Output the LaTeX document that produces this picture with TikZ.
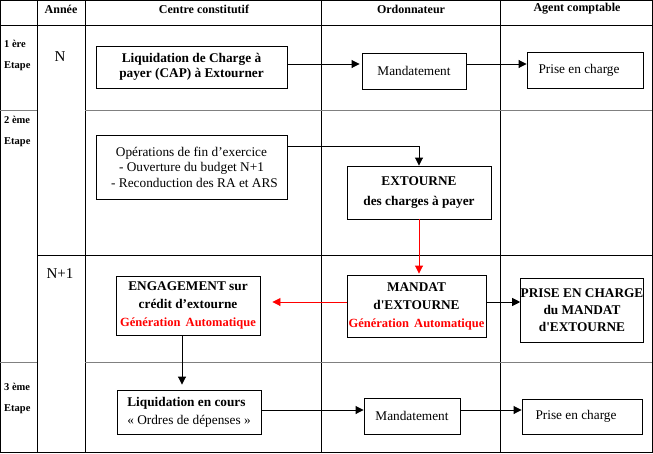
\documentclass[tikz,border=0pt]{standalone}
\usepackage{fontspec}
\setmainfont{Liberation Serif}[Ligatures=TeXOff]
\usetikzlibrary{arrows.meta,calc}
\definecolor{gridgray}{RGB}{128,128,128}
\definecolor{autored}{RGB}{255,0,0}
\tikzset{
  boxnode/.style={draw=black,line width=0.9pt,inner sep=0pt,align=center,
    font=\fontsize{13.3}{18}\selectfont},
  hdr/.style={font=\fontsize{12}{14}\selectfont\bfseries},
  etp/.style={font=\fontsize{10.5}{21}\selectfont\bfseries,anchor=west,align=left,inner sep=0pt},
  yr/.style={font=\fontsize{15}{18}\selectfont},
  conn/.style={line width=0.9pt,-{Triangle[length=8pt,width=8pt]}},
  redconn/.style={conn,draw=autored,color=autored},
  gline/.style={line width=0.9pt,draw=gridgray},
  bline/.style={line width=0.9pt,draw=black}
}
\newcommand{\gena}{\textcolor{autored}{\fontsize{12.5}{18}\selectfont Génération\, Automatique}}
\begin{document}
\begin{tikzpicture}[x=1pt,y=-1pt]
\useasboundingbox (0,0) rectangle (653,453);
\fill[white] (0,0) rectangle (653,453);
% grid
\draw[bline] (0.5,0.5) rectangle (652,452);
\draw[bline] (37,0) -- (37,452);
\draw[bline] (85,0) -- (85,452);
\draw[bline] (321,0) -- (321,452);
\draw[bline] (500,0) -- (500,452);
\draw[bline] (0,25) -- (652,25);
\draw[gline] (0,110) -- (37,110);
\draw[gline] (85,110) -- (652,110);
\draw[bline] (37,255) -- (652,255);
\draw[gline] (0,362) -- (37,362);
\draw[gline] (85,362) -- (652,362);
% headers
\node[hdr] (hA) at (61,9) {Année};
\node[hdr] (hC) at (204,9) {Centre constitutif};
\node[hdr] (hO) at (411,9) {Ordonnateur};
\node[hdr] (hG) at (577,9) {Agent comptable};
% etapes
\node[etp] (e1) at (4,55) {1 ère\\Etape};
\node[etp] (e2) at (4,131) {2 ème\\Etape};
\node[etp] (e3) at (4,398) {3 ème\\Etape};
% years
\node[yr] (yN) at (60,57) {N};
\node[yr] (yN1) at (60,274) {N+1};
% boxes
\node[boxnode,minimum width=191pt,minimum height=42pt,font=\fontsize{13.3}{14.5}\selectfont\bfseries] (liq) at (191.5,67) {Liquidation de Charge à\\payer (CAP) à Extourner};
\node[boxnode,minimum width=104pt,minimum height=36pt] (mand1) at (414,71) {Mandatement};
\node[boxnode,minimum width=116pt,minimum height=36pt] (prise1) at (585,70) {Prise en charge\hspace*{12pt}};
\node[boxnode,minimum width=191pt,minimum height=64pt,font=\fontsize{13.3}{15.5}\selectfont] (ops) at (191.5,167) {Opérations de fin d’exercice\\- Ouverture du budget N+1\\\hspace*{6pt}- Reconduction des RA et ARS};
\node[boxnode,minimum width=144pt,minimum height=53pt,font=\fontsize{13.3}{20}\selectfont\bfseries] (ext) at (419,192.5) {EXTOURNE\\des charges à payer};
\node[boxnode,minimum width=139pt,minimum height=62pt,font=\fontsize{13.3}{18}\selectfont\bfseries] (mandat) at (416.5,306) {MANDAT\\d'EXTOURNE\\\gena};
\node[boxnode,minimum width=144pt,minimum height=59pt,font=\fontsize{13.3}{18}\selectfont\bfseries] (eng) at (188,305.5) {ENGAGEMENT sur\\crédit d’extourne\hspace*{10pt}\\\gena};
\node[boxnode,minimum width=120pt,minimum height=64pt,font=\fontsize{13.3}{17}\selectfont\bfseries] (pec) at (582,310) {PRISE EN CHARGE\\du MANDAT\\d'EXTOURNE};
\node[boxnode,minimum width=144pt,minimum height=44pt,align=left,font=\fontsize{13.3}{18}\selectfont] (liq2) at (189,412) {\textbf{Liquidation en cours}\\« Ordres de dépenses »};
\node[boxnode,minimum width=96pt,minimum height=36pt] (mand2) at (412,416) {Mandatement};
\node[boxnode,minimum width=120pt,minimum height=35pt] (prise2) at (582,416.5) {Prise en charge\hspace*{12pt}};
% connector heights
\coordinate (r1) at (0,64);
\coordinate (r2) at (0,302);
\coordinate (r3) at (0,410);
\coordinate (c1) at (419,146);
\coordinate (c2) at (182,0);
% connectors
\draw[conn,shorten >=2pt] (liq.east |- r1) -- (mand1.west |- r1);
\draw[conn] (mand1.east |- r1) -- (prise1.west |- r1);
\draw[conn] (ops.east |- c1) -| (ext.north);
\draw[redconn,shorten >=1pt] (ext.south) -- (ext.south |- mandat.north);
\draw[redconn,shorten >=12pt] (mandat.west |- r2) -- (eng.east |- r2);
\draw[conn] (mandat.east |- r2) -- (pec.west |- r2);
\draw[conn,shorten >=5pt] (eng.south -| c2) -- (liq2.north -| c2);
\draw[conn] (liq2.east |- r3) -- (mand2.west |- r3);
\draw[conn] (mand2.east |- r3) -- (prise2.west |- r3);
\end{tikzpicture}
\end{document}
